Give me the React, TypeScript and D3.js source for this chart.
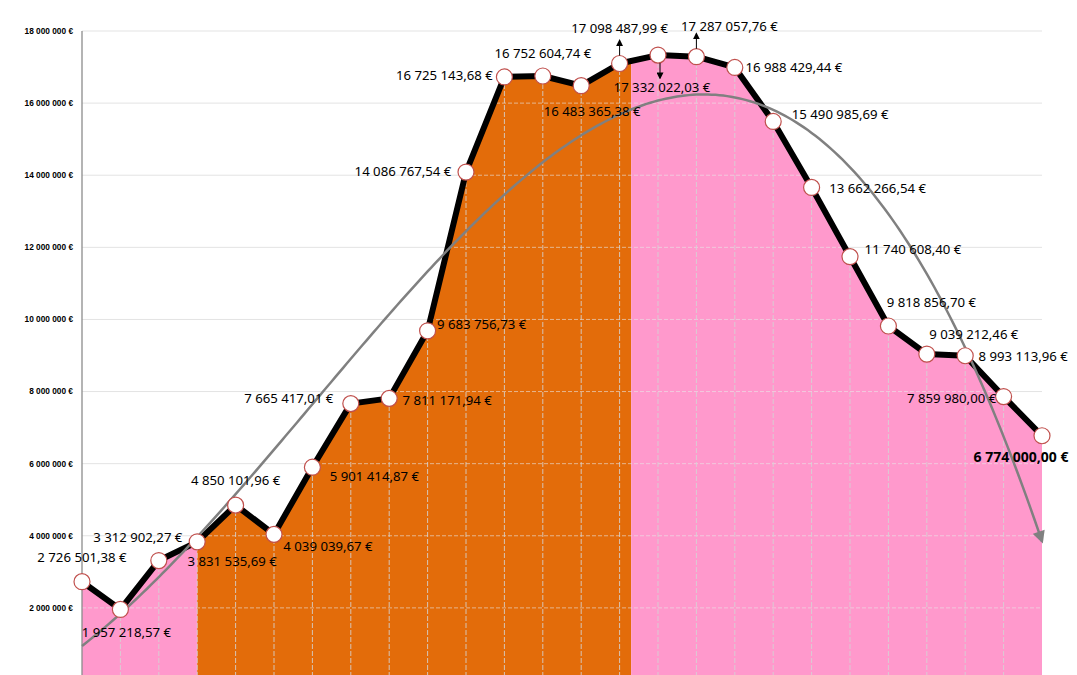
import React from "react";
import * as d3 from "d3";

const values: number[] = [
  2726501.38, 1957218.57, 3312902.27, 3831535.69, 4850101.96, 4039039.67,
  5901414.87, 7665417.01, 7811171.94, 9683756.73, 14086767.54, 16725143.68,
  16752604.74, 16483365.38, 17098487.99, 17332022.03, 17287057.76, 16988429.44,
  15490985.69, 13662266.54, 11740608.4, 9818856.7, 9039212.46, 8993113.96,
  7859980.0, 6774000.0,
];

const labels: string[] = [
  "2 726 501,38 €", "1 957 218,57 €", "3 312 902,27 €", "3 831 535,69 €",
  "4 850 101,96 €", "4 039 039,67 €", "5 901 414,87 €", "7 665 417,01 €",
  "7 811 171,94 €", "9 683 756,73 €", "14 086 767,54 €", "16 725 143,68 €",
  "16 752 604,74 €", "16 483 365,38 €", "17 098 487,99 €", "17 332 022,03 €",
  "17 287 057,76 €", "16 988 429,44 €", "15 490 985,69 €", "13 662 266,54 €",
  "11 740 608,40 €", "9 818 856,70 €", "9 039 212,46 €", "8 993 113,96 €",
  "7 859 980,00 €", "6 774 000,00 €",
];

const yTicks: number[] = [2e6, 4e6, 6e6, 8e6, 10e6, 12e6, 14e6, 16e6, 18e6];
const yTickLabels: string[] = [
  "2 000 000 €", "4 000 000 €", "6 000 000 €", "8 000 000 €", "10 000 000 €",
  "12 000 000 €", "14 000 000 €", "16 000 000 €", "18 000 000 €",
];

// area colour segments by category index
const segFrom: number[] = [0, 3, 14.3];
const segTo: number[] = [3, 14.3, 25];
const segColor: string[] = ["#FF99CC", "#E36C0A", "#FF99CC"];

// label placement (offset of label centre from point) – layout only
const labelDx: number[] = [0, 6, -21, 35, 0, 54, 62, -62, 58, 54, -63, -60, 0, 11, 0, 4, 33, 59, 67, 66, 63, 43, 47, 58, -52, -21];
const labelDy: number[] = [-24, 23, -23, 20, -25, 12, 9, -5, 2, -6, -1, -2, -23, 26, -35, 32, -30, 0, -7, 1, -7, -24, -20, 1, 2, 21];
const arrowIdx: number[] = [14, 15, 16];
const arrowDir: number[] = [-1, 1, -1];

function polyFit(xs: number[], ys: number[], order: number): number[] {
  const n = order + 1;
  const A: number[][] = [];
  for (let i = 0; i < n; i++) {
    const row: number[] = [];
    for (let j = 0; j < n; j++) {
      let s = 0;
      for (let k = 0; k < xs.length; k++) s += Math.pow(xs[k], i + j);
      row.push(s);
    }
    let b = 0;
    for (let k = 0; k < xs.length; k++) b += ys[k] * Math.pow(xs[k], i);
    row.push(b);
    A.push(row);
  }
  for (let c = 0; c < n; c++) {
    let p = c;
    for (let r = c + 1; r < n; r++) if (Math.abs(A[r][c]) > Math.abs(A[p][c])) p = r;
    [A[c], A[p]] = [A[p], A[c]];
    for (let r = 0; r < n; r++) {
      if (r === c) continue;
      const f = A[r][c] / A[c][c];
      for (let j = c; j <= n; j++) A[r][j] -= f * A[c][j];
    }
  }
  return A.map((row, i) => row[n] / row[i]);
}

export default function App() {
  const W = 1077, H = 675;
  const x = d3.scaleLinear().domain([0, values.length - 1]).range([82, 1042]);
  const y = d3.scaleLinear().domain([0, 18e6]).range([680, 31]);
  const idx = values.map((_, i) => i);

  const line = d3.line<number>().x((i) => x(i)).y((i) => y(values[i]));
  const area = d3.area<number>().x((i) => x(i)).y0(H + 10).y1((i) => y(values[i]));
  const areaPath = area(idx) || "";

  const coef = polyFit(idx.map((i) => i + 1), values, 3);
  const trendPts = d3.range(0, values.length - 1 + 0.001, 0.1).map((t) => {
    const xv = t + 1;
    let v = 0;
    coef.forEach((c, p) => (v += c * Math.pow(xv, p)));
    return [x(t), y(v)] as [number, number];
  });
  const trendPath = d3.line()(trendPts) || "";

  const font = "'Noto Sans', 'Open Sans', sans-serif";
  const last = values.length - 1;

  return (
    <svg width={W} height={H} style={{ position: "absolute", left: 0, top: 0, background: "#fff" }}>
      <defs>
        <clipPath id="areaClip">
          <path d={areaPath} />
        </clipPath>
        <marker id="trendArrow" viewBox="0 0 10 10" refX="8" refY="5" markerWidth="5.5" markerHeight="5" orient="auto" markerUnits="strokeWidth">
          <path d="M0,0 L10,5 L0,10 z" fill="#808080" />
        </marker>
        <marker id="lblArrow" viewBox="0 0 10 10" refX="8" refY="5" markerWidth="7" markerHeight="7" orient="auto" markerUnits="userSpaceOnUse">
          <path d="M0,0 L10,5 L0,10 z" fill="#000" />
        </marker>
      </defs>

      {/* gridlines */}
      {yTicks.map((t) => (
        <line key={"g" + t} x1={x(0)} x2={x(last)} y1={y(t)} y2={y(t)} stroke="#e3e3e3" strokeWidth={1} />
      ))}

      {/* area segments */}
      <g clipPath="url(#areaClip)">
        {segFrom.map((f, i) => (
          <rect key={"s" + i} x={x(f)} y={0} width={x(segTo[i]) - x(f)} height={H + 10} fill={segColor[i]} />
        ))}
        {yTicks.map((t) => (
          <line key={"ga" + t} x1={x(0)} x2={x(last)} y1={y(t)} y2={y(t)} stroke="#e8e8e8" strokeOpacity={0.6} strokeDasharray="4,2" strokeWidth={1} />
        ))}
        {idx.slice(1, -1).map((i) => (
          <line key={"v" + i} x1={x(i)} x2={x(i)} y1={0} y2={H + 10} stroke="#d4d4d4" strokeOpacity={0.85} strokeDasharray="5,2" strokeWidth={1} />
        ))}
      </g>

      {/* y axis */}
      <line x1={x(0)} x2={x(0)} y1={y(18e6)} y2={H} stroke="#8c8c8c" strokeWidth={1.3} />
      {yTicks.map((t, i) => (
        <text key={"yt" + t} x={73} y={y(t)} dy="0.35em" textAnchor="end" fontFamily="'Liberation Sans', Arial, sans-serif" fontWeight="bold" fontSize={8.3} fill="#000">
          {yTickLabels[i]}
        </text>
      ))}

      {/* data line */}
      <path d={line(idx) || ""} fill="none" stroke="#000" strokeWidth={6} strokeLinejoin="round" />

      {/* trend */}
      <path d={trendPath} fill="none" stroke="#808080" strokeWidth={2.5} markerEnd="url(#trendArrow)" />

      {/* markers */}
      {idx.map((i) => (
        <circle key={"m" + i} cx={x(i)} cy={y(values[i])} r={8} fill="#fff" stroke="#C0504D" strokeWidth={1.2} />
      ))}

      {/* label arrows */}
      {arrowIdx.map((i, k) => {
        const cx = x(i) + (arrowDir[k] > 0 ? 2 : 0);
        const y0 = y(values[i]) + arrowDir[k] * 8;
        const y1 = y0 + arrowDir[k] * 15;
        return <line key={"a" + i} x1={cx} x2={cx} y1={y0} y2={y1} stroke="#000" strokeWidth={1} markerEnd="url(#lblArrow)" />;
      })}

      {/* labels */}
      {idx.map((i) => (
        <text key={"l" + i} x={x(i) + labelDx[i]} y={y(values[i]) + labelDy[i]} dy="0.35em" textAnchor="middle" fontFamily={font} fontSize={i === last ? 14 : 13.2} fontWeight={i === last ? "bold" : "normal"} fill="#000">
          {labels[i]}
        </text>
      ))}
    </svg>
  );
}
